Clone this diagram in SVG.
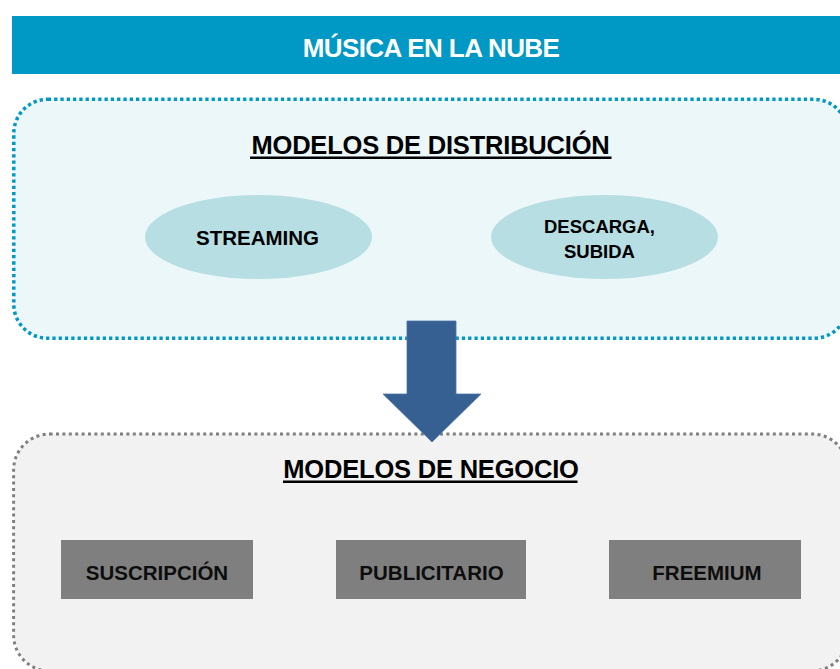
<svg xmlns="http://www.w3.org/2000/svg" width="840" height="669" viewBox="0 0 840 669">
<style>
text{font-family:"Liberation Sans",Arial,sans-serif;font-weight:bold;text-anchor:middle;fill:#000}
.title{font-size:25.5px;letter-spacing:-0.2px}
.ell{fill:#B7DEE3}
.el{font-size:20px}
.box{fill:#7F7F7F}
.bl{font-size:20.5px;fill:#0D0D0D}
.ul{stroke:#000;stroke-width:2.4}
</style>
<g id="header">
<rect x="12" y="16" width="828" height="58" fill="#0098C4"/>
<text x="431" y="57" style="font-size:26px;letter-spacing:-0.6px;fill:#fff">MÚSICA EN LA NUBE</text>
</g>
<g id="distribucion">
<rect x="13.8" y="99.3" width="834" height="239" rx="34" ry="34" fill="#EBF7F8" stroke="#0098C4" stroke-width="3.5" stroke-dasharray="3.3 3"/>
<text class="title" x="430.5" y="153.5">MODELOS DE DISTRIBUCIÓN</text>
<line class="ul" x1="250" y1="157.8" x2="611.5" y2="157.8"/>
</g>
<g id="streaming">
<ellipse class="ell" cx="258.5" cy="237" rx="113.5" ry="42"/>
<text class="el" x="257.5" y="245" style="font-size:20.5px">STREAMING</text>
</g>
<g id="descarga">
<ellipse class="ell" cx="604.5" cy="237" rx="113.5" ry="42"/>
<text class="el" x="599.5" y="233" style="font-size:18.5px">DESCARGA,</text>
<text class="el" x="599.5" y="258" style="font-size:18.5px">SUBIDA</text>
</g>
<g id="negocio">
<rect x="13.6" y="434" width="834.4" height="237" rx="36" ry="36" fill="#F2F2F2" stroke="#7F7F7F" stroke-width="3" stroke-dasharray="3 3.4"/>
<text class="title" x="431" y="478">MODELOS DE NEGOCIO</text>
<line class="ul" x1="283" y1="481.8" x2="577.5" y2="481.8"/>
</g>
<g id="suscripcion">
<rect class="box" x="61" y="540" width="192" height="59"/>
<text class="bl" x="157" y="580">SUSCRIPCIÓN</text>
</g>
<g id="publicitario">
<rect class="box" x="336" y="540" width="190" height="59"/>
<text class="bl" x="431.5" y="580">PUBLICITARIO</text>
</g>
<g id="freemium">
<rect class="box" x="609" y="540" width="192" height="59"/>
<text class="bl" x="707" y="580">FREEMIUM</text>
</g>
<g id="connectors">
<polygon points="407,321 456,321 456,394 481,394 432,442 383,394 407,394" fill="#376092" stroke="#4A74A6" stroke-width="0.8"/>
</g>
</svg>
